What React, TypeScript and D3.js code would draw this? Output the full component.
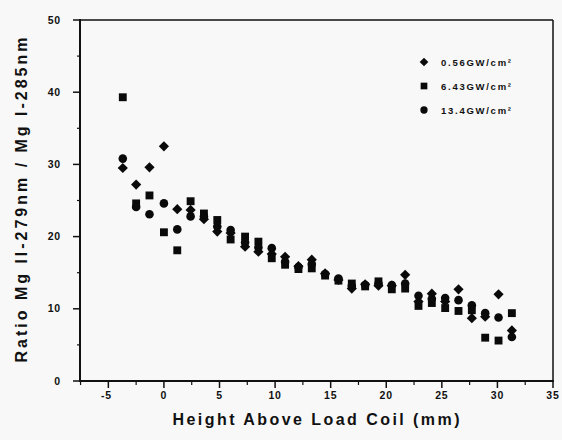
import React from "react";
import * as d3 from "d3";

const heights = [-3.7, -2.5, -1.3, 0, 1.2, 2.4, 3.6, 4.8, 6.0, 7.3, 8.5, 9.7, 10.9, 12.1, 13.3, 14.5, 15.7, 16.9, 18.1, 19.3, 20.5, 21.7, 22.9, 24.1, 25.3, 26.5, 27.7, 28.9, 30.1, 31.3];
const series056 = [29.5, 27.2, 29.6, 32.5, 23.8, 23.7, 22.4, 20.7, 20.5, 18.6, 17.9, 17.6, 17.2, 15.9, 16.8, 14.9, 14.0, 12.8, 13.4, 13.2, 13.2, 14.7, 11.0, 12.1, 11.0, 12.7, 8.7, 8.9, 12.0, 7.0];
const series643 = [39.3, 24.6, 25.7, 20.6, 18.1, 24.9, 23.2, 22.3, 19.6, 20.0, 19.3, 17.0, 16.1, 15.5, 15.6, 14.6, 13.9, 13.5, 13.1, 13.8, 12.7, 12.8, 10.4, 10.8, 10.1, 9.7, 9.8, 6.0, 5.6, 9.4];
const series134 = [30.8, 24.1, 23.1, 24.6, 21.0, 22.8, 22.8, 21.4, 20.9, 19.2, 18.5, 18.4, 16.5, 15.8, 16.2, 14.8, 14.2, 13.2, 13.3, 13.5, 13.3, 13.5, 11.8, 11.4, 11.5, 11.2, 10.5, 9.4, 8.8, 6.1];
const seriesLabels = ["0.56GW/cm²", "6.43GW/cm²", "13.4GW/cm²"];
const xTicks = [-5, 0, 5, 10, 15, 20, 25, 30, 35];
const yTicks = [0, 10, 20, 30, 40, 50];

const W = 562, H = 440;
const L = 80, R = 553, T = 20, B = 381;

export default function App() {
  const x = d3.scaleLinear().domain([-7.55, 35]).range([L, R]);
  const y = d3.scaleLinear().domain([0, 50]).range([B, T]);
  const diamond = d3.symbol().type(d3.symbolSquare).size(52)()!;
  const square = d3.symbol().type(d3.symbolSquare).size(62)()!;
  const circle = d3.symbol().type(d3.symbolCircle).size(58)()!;
  const shapes = [
    { d: diamond, rot: 45 },
    { d: square, rot: 0 },
    { d: circle, rot: 0 },
  ];
  const data = [series056, series643, series134];
  const xMinor = d3.range(-7.5, 35.01, 2.5).filter((v) => !xTicks.includes(v));
  const yMinor = d3.range(5, 50, 10);
  const font = "'Liberation Sans', Arial, sans-serif";

  return (
    <svg width={W} height={H} style={{ position: "absolute", left: 0, top: 0, background: "#f8f8f8" }}>
      <rect x={0} y={0} width={W} height={H} fill="#f8f8f8" />
      {/* frame */}
      <line x1={L} y1={T} x2={R} y2={T} stroke="#111" strokeWidth={1.5} />
      <line x1={R} y1={T} x2={R} y2={B} stroke="#111" strokeWidth={1.5} />
      <line x1={L} y1={T - 1} x2={L} y2={B + 1} stroke="#111" strokeWidth={2} />
      <line x1={L - 1} y1={B} x2={R + 1} y2={B} stroke="#111" strokeWidth={2} />
      {/* y ticks */}
      {yTicks.map((t) => (
        <g key={"y" + t}>
          <line x1={L - 7} x2={L} y1={y(t)} y2={y(t)} stroke="#111" strokeWidth={1.5} />
          <text x={L - 19} y={y(t) + 3.5} textAnchor="end" fontFamily={font} fontWeight="bold" fontSize={10.5} letterSpacing={0.8} fill="#111">{t}</text>
        </g>
      ))}
      {yMinor.map((t) => (
        <line key={"ym" + t} x1={L - 3} x2={L} y1={y(t)} y2={y(t)} stroke="#111" strokeWidth={1.2} />
      ))}
      {/* x ticks */}
      {xTicks.map((t) => (
        <g key={"x" + t}>
          <line x1={x(t)} x2={x(t)} y1={B} y2={B + 7} stroke="#111" strokeWidth={1.5} />
          <text x={x(t) + (t < 0 ? -2 : 0)} y={B + 18} textAnchor="middle" fontFamily={font} fontWeight="bold" fontSize={10.5} letterSpacing={0.8} fill="#111">{t}</text>
        </g>
      ))}
      {xMinor.map((t) => (
        <line key={"xm" + t} x1={x(t)} x2={x(t)} y1={B} y2={B + 4} stroke="#111" strokeWidth={1.2} />
      ))}
      {/* axis titles */}
      <text x={316} y={425} textAnchor="middle" fontFamily={font} fontWeight="bold" fontSize={16} textLength={287} lengthAdjust="spacing" fill="#111">Height Above Load Coil (mm)</text>
      <text transform="translate(27,200) rotate(-90)" textAnchor="middle" fontFamily={font} fontWeight="bold" fontSize={16} textLength={325} lengthAdjust="spacing" fill="#111">Ratio Mg II-279nm / Mg I-285nm</text>
      {/* data */}
      {data.map((s, si) => (
        <g key={"s" + si}>
          {s.map((v, i) => (
            <path key={i} d={shapes[si].d} transform={`translate(${x(heights[i])},${y(v)}) rotate(${shapes[si].rot})`} fill="#0a0a0a" />
          ))}
        </g>
      ))}
      {/* legend */}
      {seriesLabels.map((lab, i) => (
        <g key={"l" + i} transform={`translate(424,${62 + i * 24})`}>
          <path d={shapes[i].d} transform={`rotate(${shapes[i].rot}) scale(0.85)`} fill="#0a0a0a" />
          <text x={17} y={3.5} fontFamily={font} fontWeight="bold" fontSize={9.5} textLength={70} lengthAdjust="spacing" fill="#111">{lab}</text>
        </g>
      ))}
    </svg>
  );
}
